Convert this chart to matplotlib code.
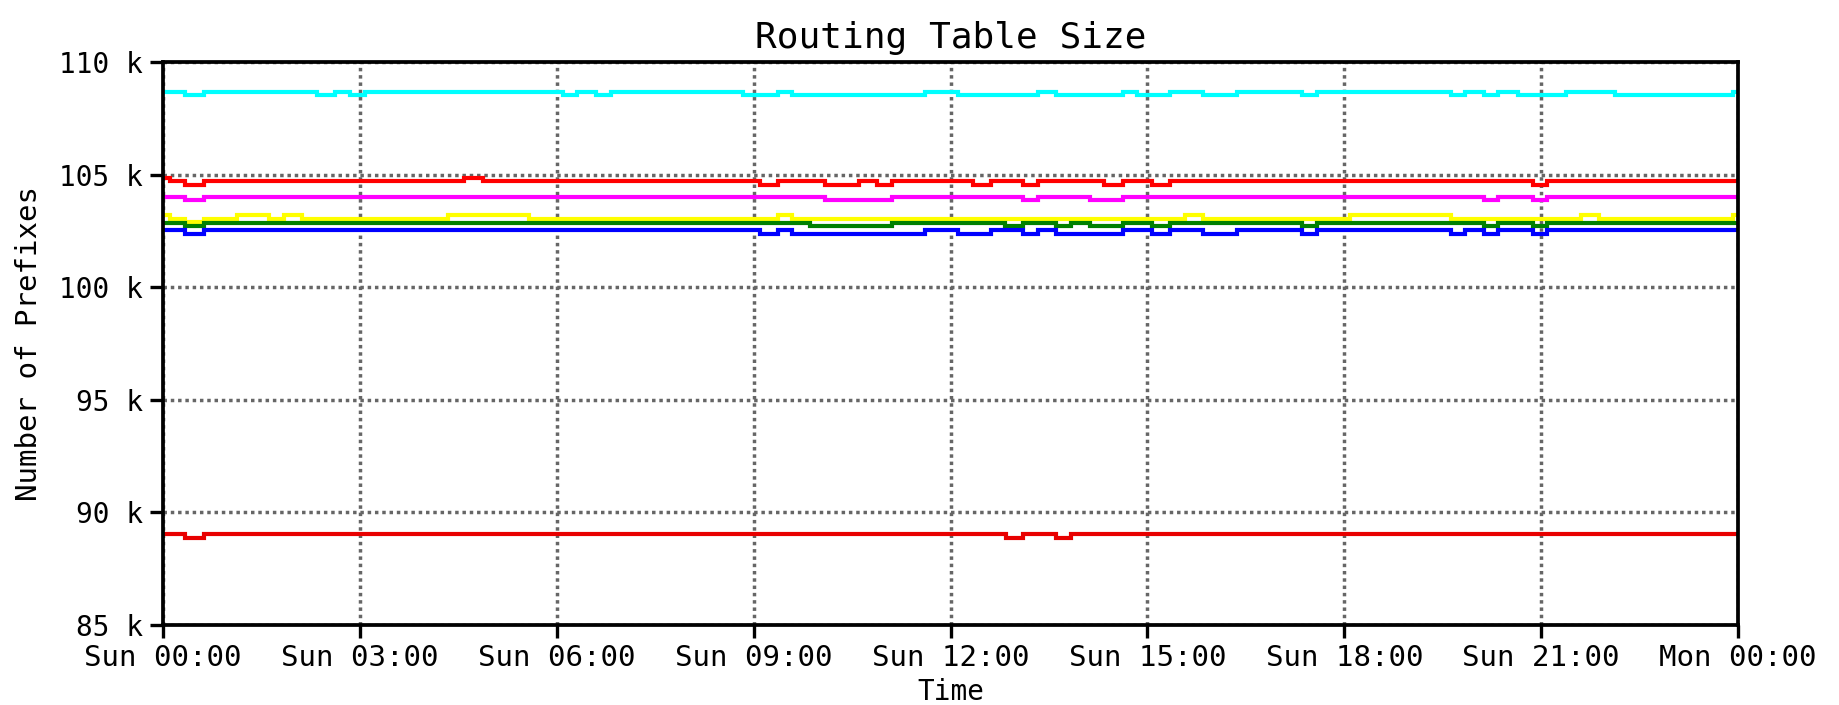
import matplotlib
matplotlib.use("Agg")
import matplotlib.pyplot as plt
import numpy as np

# ---------------- data (hours since Sun 00:00, values in thousands of prefixes) ----------------
cyan_edges = [0, 0.33, 0.62, 2.35, 2.62, 2.85, 3.08, 6.10, 6.31, 6.60, 6.83, 8.84, 9.37, 9.59,
              11.61, 12.11, 13.34, 13.61, 14.63, 14.84, 15.35, 15.85, 16.36, 17.36, 17.58,
              19.62, 19.84, 20.13, 20.35, 20.64, 21.38, 22.12, 23.93, 24]
cyan_vals = [108.67, 108.52, 108.67, 108.52, 108.67, 108.52, 108.67, 108.52, 108.67, 108.52,
             108.67, 108.52, 108.67, 108.52, 108.67, 108.52, 108.67, 108.52, 108.67, 108.52,
             108.67, 108.52, 108.67, 108.52, 108.67, 108.52, 108.67, 108.52, 108.67, 108.52,
             108.67, 108.52, 108.67]

red_edges = [0, 0.10, 0.33, 0.62, 4.58, 4.87, 9.09, 9.37, 10.09, 10.60, 10.88, 11.11, 12.34,
             12.61, 13.11, 13.34, 14.34, 14.63, 15.07, 15.35, 20.87, 21.09, 24]
red_vals = [104.86, 104.70, 104.52, 104.70, 104.86, 104.70, 104.52, 104.70, 104.52, 104.70,
            104.52, 104.70, 104.52, 104.70, 104.52, 104.70, 104.52, 104.70, 104.52, 104.70,
            104.52, 104.70]

magenta_edges = [0, 0.33, 0.62, 10.09, 11.11, 13.11, 13.34, 14.13, 14.63, 20.13, 20.35,
                 20.87, 21.09, 24]
magenta_vals = [104.02, 103.87, 104.02, 103.87, 104.02, 103.87, 104.02, 103.87, 104.02,
                103.87, 104.02, 103.87, 104.02]

yellow_edges = [0, 0.10, 0.33, 0.62, 1.12, 1.62, 1.85, 2.12, 4.35, 5.58, 9.37, 9.59, 15.57,
                15.85, 18.08, 19.62, 21.61, 21.88, 23.93, 24]
yellow_vals = [103.20, 103.02, 102.88, 103.02, 103.20, 103.02, 103.20, 103.02, 103.20,
               103.02, 103.20, 103.02, 103.20, 103.02, 103.20, 103.02, 103.20, 103.02, 103.20]

green_edges = [0, 0.33, 0.62, 9.86, 11.11, 12.83, 13.11, 13.61, 13.84, 14.13, 14.63, 15.07,
               15.35, 17.35, 17.58, 20.13, 20.35, 20.87, 21.09, 24]
green_vals = [102.86, 102.70, 102.86, 102.70, 102.86, 102.70, 102.86, 102.70, 102.86,
              102.70, 102.86, 102.70, 102.86, 102.70, 102.86, 102.70, 102.86, 102.70, 102.86]

blue_edges = [0, 0.33, 0.62, 9.09, 9.37, 9.59, 11.61, 12.11, 12.61, 13.11, 13.34, 13.61,
              14.63, 15.07, 15.35, 15.85, 16.36, 17.35, 17.58, 19.62, 19.84, 20.13, 20.35,
              20.87, 21.09, 24]
blue_vals = [102.52, 102.37, 102.52, 102.37, 102.52, 102.37, 102.52, 102.37, 102.52, 102.37,
             102.52, 102.37, 102.52, 102.37, 102.52, 102.37, 102.52, 102.37, 102.52, 102.37,
             102.52, 102.37, 102.52, 102.37, 102.52]

red2_edges = [0, 0.33, 0.62, 12.84, 13.11, 13.61, 13.84, 24]
red2_vals = [89.04, 88.88, 89.04, 88.88, 89.04, 88.88, 89.04]

x_ticks = [0, 3, 6, 9, 12, 15, 18, 21, 24]
x_labels = ["Sun 00:00", "Sun 03:00", "Sun 06:00", "Sun 09:00", "Sun 12:00",
            "Sun 15:00", "Sun 18:00", "Sun 21:00", "Mon 00:00"]
y_ticks = [85, 90, 95, 100, 105, 110]
y_labels = ["85 k", "90 k", "95 k", "100 k", "105 k", "110 k"]

series = [
    (cyan_edges, cyan_vals, "#00FFFF"),
    (red_edges, red_vals, "#FF0000"),
    (magenta_edges, magenta_vals, "#FF00FF"),
    (yellow_edges, yellow_vals, "#FFFF00"),
    (green_edges, green_vals, "#008000"),
    (blue_edges, blue_vals, "#0000FF"),
    (red2_edges, red2_vals, "#E80000"),
]

# ---------------- figure ----------------
plt.rcParams["font.family"] = ["DejaVu Sans Mono"]
fig = plt.figure(figsize=(18.39, 7.05), dpi=100)
ax = fig.add_axes([163 / 1839, 1 - 625 / 705, (1738 - 163) / 1839, (625 - 62) / 705])

for edges, vals, color in series:
    ax.stairs(np.array(vals) * 1000, edges, baseline=None, color=color,
              linewidth=3.0, zorder=3)

ax.set_xlim(0, 24)
ax.set_ylim(85000, 110000)
ax.set_xticks(x_ticks)
ax.set_xticklabels(x_labels, fontsize=21)
ax.set_yticks([v * 1000 for v in y_ticks])
ax.set_yticklabels(y_labels, fontsize=20)

ax.grid(True, color="#666666", linestyle=(0, (1, 1.1)), linewidth=2.5, zorder=1)
ax.set_axisbelow(True)

for sp in ax.spines.values():
    sp.set_linewidth(2.7)
    sp.set_color("black")
    sp.set_zorder(5)

ax.tick_params(axis="both", direction="out", length=9.5, width=2.4, color="black", pad=4)
ax.tick_params(axis="y", pad=5)

ax.set_title("Routing Table Size", fontsize=26, pad=10)
ax.set_ylabel("Number of Prefixes", fontsize=21)
ax.yaxis.set_label_coords(-0.076, 0.5)
ax.set_xlabel("Time", fontsize=20)
ax.xaxis.set_label_coords(0.5, -0.095)

fig.savefig("out.png", dpi=100, facecolor="white")
